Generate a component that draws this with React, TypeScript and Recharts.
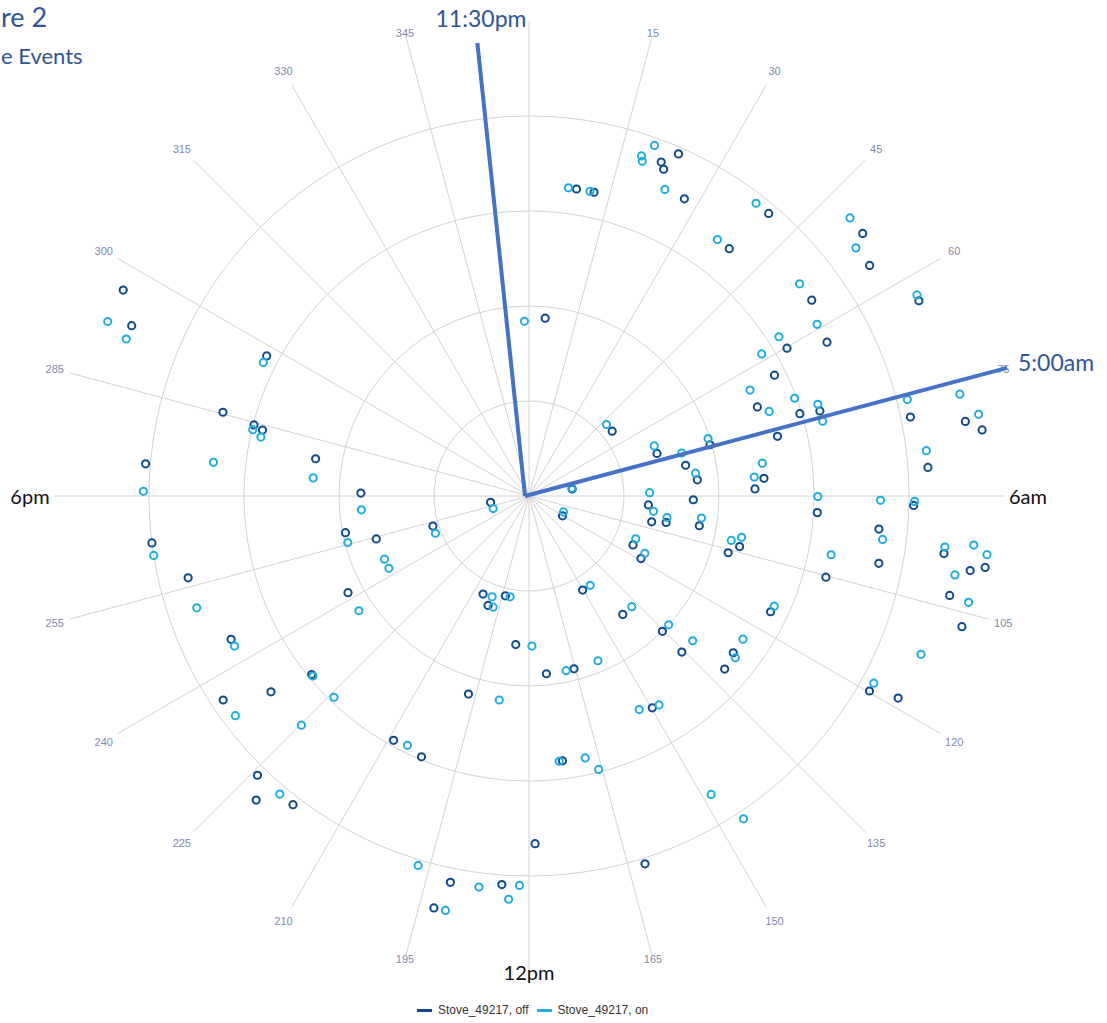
import { RadarChart, Radar, PolarGrid, PolarAngleAxis, PolarRadiusAxis } from "recharts";

// Hour-of-day on the angle axis (15 degrees per hour, midnight at the top)
const ANGLE_TICKS = [0, 15, 30, 45, 60, 75, 90, 105, 120, 135, 150, 165, 180, 195, 210, 225, 240, 255, 270, 285, 300, 315, 330, 345];
const CLOCK_LABELS: Record<number, string> = { 90: "6am", 180: "12pm", 270: "6pm" };
const RINGS = [1, 2, 3, 4];

// [angle (deg clockwise from midnight), radius]
const stoveOff: [number, number][] = [
  [296.9, 4.79], [293.2, 4.55], [298.1, 3.13], [285.3, 3.34], [284.5, 2.99], [283.9, 2.89],
  [274.8, 4.05], [279.9, 2.28], [271.0, 1.77], [23.6, 3.93], [21.6, 3.78], [22.4, 3.72],
  [8.8, 3.27], [12.1, 3.27], [27.6, 3.53], [5.2, 1.88], [52.1, 1.11], [71.6, 1.42],
  [78.9, 1.68], [260.6, 0.41], [80.8, 0.46], [120.6, 0.41], [91.3, 1.73], [94.3, 1.26],
  [40.3, 3.9], [39.0, 3.35], [51.8, 4.47], [55.9, 4.33], [63.4, 4.59], [55.3, 3.62],
  [62.7, 3.53], [60.2, 3.13], [63.8, 2.88], [68.7, 2.58], [73.1, 2.98], [73.7, 3.19],
  [76.5, 2.69], [78.3, 4.1], [80.3, 4.66], [81.7, 4.82], [85.9, 4.21], [85.7, 2.48],
  [88.2, 2.38], [93.3, 3.04], [91.4, 4.05], [74.2, 1.98], [84.5, 1.78], [262.9, 4.0],
  [256.5, 3.69], [244.3, 3.48], [232.8, 3.41], [236.3, 3.87], [224.2, 4.1], [221.9, 4.3],
  [217.4, 4.09], [258.7, 1.97], [254.3, 1.67], [241.9, 2.16], [230.6, 2.96], [209.0, 2.94],
  [252.6, 1.06], [205.1, 1.14], [200.5, 1.23], [193.3, 1.08], [185.1, 1.57], [174.4, 1.88],
  [165.4, 1.88], [197.0, 2.18], [150.3, 1.14], [141.6, 1.59], [135.4, 2.0], [135.6, 2.3],
  [115.2, 1.21], [119.2, 1.35], [101.9, 1.32], [100.9, 1.47], [149.8, 2.58], [202.4, 2.97],
  [172.8, 2.81], [179.0, 3.66], [162.5, 4.06], [191.5, 4.15], [184.0, 4.1], [193.0, 4.45],
  [99.9, 1.82], [105.9, 2.18], [103.5, 2.28], [105.3, 3.24], [95.4, 3.7], [100.9, 3.75],
  [97.9, 4.41], [99.6, 4.71], [98.9, 4.86], [103.3, 4.55], [106.8, 4.76], [115.6, 2.82],
  [127.5, 2.71], [131.5, 2.75], [119.8, 4.13], [118.7, 4.43],
];

const stoveOn: [number, number][] = [
  [292.5, 4.8], [291.3, 4.55], [296.7, 3.13], [283.5, 2.99], [282.4, 2.89], [276.1, 3.34],
  [270.7, 4.06], [274.8, 2.28], [265.3, 1.77], [19.7, 3.92], [18.3, 3.77], [18.7, 3.72],
  [7.3, 3.27], [11.3, 3.27], [23.9, 3.53], [358.5, 1.84], [47.3, 1.11], [68.2, 1.42],
  [74.3, 1.67], [79.5, 0.46], [250.6, 0.4], [114.8, 0.4], [88.4, 1.27], [97.0, 1.32],
  [82.2, 1.77], [37.8, 3.9], [36.3, 3.35], [49.1, 4.47], [52.8, 4.32], [62.6, 4.6],
  [51.9, 3.62], [59.2, 3.53], [57.5, 3.12], [58.6, 2.87], [64.4, 2.58], [70.6, 2.68],
  [69.8, 2.98], [72.4, 3.19], [75.7, 3.19], [75.7, 4.11], [76.7, 4.66], [79.7, 4.81],
  [83.5, 4.21], [82.0, 2.48], [85.2, 2.38], [90.1, 3.04], [90.7, 3.7], [90.8, 4.06],
  [72.2, 1.98], [97.3, 1.83], [261.0, 4.0], [251.4, 3.69], [243.0, 3.48], [233.2, 3.86],
  [219.9, 4.09], [255.6, 1.97], [246.4, 1.66], [242.7, 1.66], [236.0, 2.16], [230.2, 2.96],
  [224.1, 2.95], [224.8, 3.4], [248.3, 1.06], [200.1, 1.13], [197.9, 1.23], [190.6, 1.08],
  [178.9, 1.58], [168.0, 1.88], [157.3, 1.88], [188.3, 2.17], [145.6, 1.14], [137.1, 1.59],
  [132.7, 2.0], [131.5, 2.3], [111.9, 1.21], [116.3, 1.36], [98.9, 1.47], [152.7, 2.53],
  [148.1, 2.59], [206.0, 2.92], [173.5, 2.81], [167.9, 2.82], [165.7, 2.97], [196.7, 4.06],
  [187.3, 4.15], [181.4, 4.1], [182.9, 4.25], [191.4, 4.45], [102.4, 2.18], [101.0, 2.28],
  [101.0, 3.24], [97.0, 3.75], [97.0, 4.41], [96.3, 4.71], [97.3, 4.86], [100.5, 4.56],
  [103.6, 4.76], [114.2, 2.83], [123.8, 2.71], [128.1, 2.76], [112.0, 4.45], [118.5, 4.13],
  [148.6, 3.68], [146.4, 4.08],
];

// hand-drawn time markers on the original figure
const NOTES = [
  { label: "11:30pm", angle: 353.5, reach: 4.8 },
  { label: "5:00am", angle: 75, reach: 5.21 },
];

const W = 1107;
const H = 1023;
const CX = 529;
const CY = 496;
const PX_PER_UNIT = 95;
const R_MAX = 5; // radial domain; the spokes stop a little short of it
const SPOKE_R = 459;

const OFF_COLOR = "#0F4A8E";
const ON_COLOR = "#22ADE2";
const NOTE_TEXT = "#2F5597";
const NOTE_LINE = "#4472C4";

const chartData = [
  ...stoveOff.map(([angle, r]) => ({ angle, off: r })),
  ...stoveOn.map(([angle, r]) => ({ angle, on: r })),
];

function polar(deg: number, dist: number) {
  const a = (deg * Math.PI) / 180;
  return { x: CX + dist * Math.sin(a), y: CY - dist * Math.cos(a) };
}

function AngleTick(props: any) {
  const v = props.payload?.value;
  if (v === 0) return <g />; // covered by the 11:30pm note in the original
  const clock = CLOCK_LABELS[v];
  if (clock) {
    const dist = v === 180 ? 476 : 499;
    const p = polar(v, dist);
    return (
      <text x={p.x} y={p.y} textAnchor="middle" dominantBaseline="central"
        fontFamily="Lato, 'Open Sans', sans-serif" fontSize={20} fill="#111">
        {clock}
      </text>
    );
  }
  const s = Math.abs(Math.sin((v * Math.PI) / 180));
  const p = polar(v, s < 0.3 ? 479 : 491);
  return (
    <text x={p.x} y={p.y} textAnchor="middle" dominantBaseline="central"
      fontFamily="'Liberation Sans', Arial, sans-serif" fontSize={11} fill="#8288B1">
      {v}
    </text>
  );
}

// hollow ring marker; rows that belong to the other series carry no value
const ringDot = (color: string, key: "off" | "on") => (p: any) => {
  const entry = p.payload ?? {};
  const raw = entry.payload?.[key] ?? entry[key] ?? (typeof entry.value === "number" ? entry.value : undefined);
  if (raw == null || !Number.isFinite(p.cx) || !Number.isFinite(p.cy)) {
    return <g key={`n-${p.index}`} />;
  }
  return (
    <circle key={`d-${p.index}`} cx={p.cx} cy={p.cy} r={3.6}
      fill="none" stroke={color} strokeWidth={2} />
  );
};

export default function App() {
  return (
    <div style={{ position: "relative", width: W, height: H, background: "#fff", overflow: "hidden" }}>
      <style>{"body{margin:0}"}</style>

      <RadarChart width={W} height={H} data={chartData} cx={CX} cy={CY}
        outerRadius={R_MAX * PX_PER_UNIT} startAngle={90} endAngle={-270}
        margin={{ top: 0, right: 0, bottom: 0, left: 0 }}>
        <PolarGrid gridType="circle" stroke="#d2d2d2" strokeWidth={1} outerRadius={SPOKE_R}
          polarRadius={RINGS.map((v) => v * PX_PER_UNIT)} />
        <PolarAngleAxis dataKey="angle" type="number" domain={[0, 360]} ticks={ANGLE_TICKS}
          axisLine={false} tickLine={false} tick={AngleTick} />
        <PolarRadiusAxis type="number" domain={[0, R_MAX]} tick={false} axisLine={false} />
        <Radar dataKey="off" name="Stove_49217, off" stroke="none" fill="none"
          dot={ringDot(OFF_COLOR, "off")} isAnimationActive={false} />
        <Radar dataKey="on" name="Stove_49217, on" stroke="none" fill="none"
          dot={ringDot(ON_COLOR, "on")} isAnimationActive={false} />
      </RadarChart>

      {/* title fragments (the original is cropped at the left edge) and the time markers */}
      <svg width={W} height={H} style={{ position: "absolute", left: 0, top: 0, pointerEvents: "none" }}>
        <text x={1} y={27} fontFamily="Lato, sans-serif" fontSize={27} fill={NOTE_TEXT}>
          re 2
        </text>
        <text x={1} y={64} fontFamily="Lato, sans-serif" fontSize={22} fill={NOTE_TEXT}>
          e Events
        </text>
        {NOTES.map((n) => {
          const end = polar(n.angle, n.reach * PX_PER_UNIT);
          return (
            <line key={n.label} x1={CX - 4} y1={CY} x2={end.x} y2={end.y}
              stroke={NOTE_LINE} strokeWidth={4} />
          );
        })}
        <text x={481} y={27} textAnchor="middle" fontFamily="Lato, sans-serif" fontSize={23} fill={NOTE_TEXT}>
          {NOTES[0].label}
        </text>
        <text x={1018} y={371} textAnchor="start" fontFamily="Lato, sans-serif" fontSize={23} fill={NOTE_TEXT}>
          {NOTES[1].label}
        </text>
      </svg>

      {/* legend */}
      <div style={{
        position: "absolute", left: 417, top: 1003, display: "flex", alignItems: "center", gap: 6,
        fontFamily: "'Liberation Sans', Arial, sans-serif", fontSize: 12, color: "#333",
      }}>
        <span style={{ width: 15, height: 3, background: OFF_COLOR, display: "inline-block" }} />
        <span>Stove_49217, off</span>
        <span style={{ width: 15, height: 3, background: ON_COLOR, display: "inline-block", marginLeft: 2 }} />
        <span>Stove_49217, on</span>
      </div>
    </div>
  );
}
